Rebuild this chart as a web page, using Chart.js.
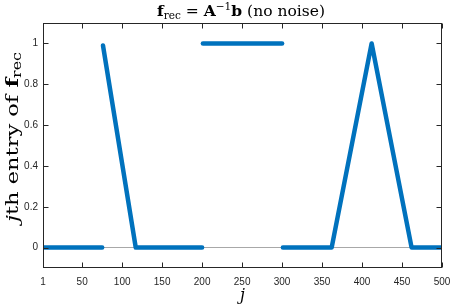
<!DOCTYPE html>
<html>
<head>
<meta charset="utf-8">
<script src="https://cdn.jsdelivr.net/npm/chart.js@4.4.1/dist/chart.umd.min.js"></script>
<style>
  html, body { margin:0; padding:0; background:#fff; }
  #wrap { width:450px; height:306px; }
</style>
</head>
<body>
<div id="wrap"><canvas id="chart" width="450" height="306"></canvas></div>
<script>
// breakpoints of f_rec (j index, value)
const seg1J = [1, 75],               seg1F = [0, 0];
const seg2J = [76, 117, 200],        seg2F = [0.99, 0, 0];
const seg3J = [201, 300],            seg3F = [1, 1];
const seg4J = [301, 362, 412, 462, 500], seg4F = [0, 0, 1, 0, 0];

const xTicks = [1, 50, 100, 150, 200, 250, 300, 350, 400, 450, 500];
const yTicks = [0, 0.2, 0.4, 0.6, 0.8, 1];

const blue = "#0072BD";
const axisCol = "#262626";
const serif = "'DejaVu Serif', 'Liberation Serif', serif";

const toPts = (js, fs) => js.map((j, i) => ({ x: j, y: fs[i] }));

function seg(js, fs) {
  return {
    data: toPts(js, fs),
    borderColor: blue,
    backgroundColor: blue,
    borderWidth: 4.5,
    borderCapStyle: "round",
    borderJoinStyle: "round",
    pointRadius: 0,
    tension: 0
  };
}

// draw mixed-font text runs centred on x; optional width stretches the run
function drawRuns(ctx, runs, x, y, width) {
  let total = 0;
  runs.forEach(r => { ctx.font = r.font; total += ctx.measureText(r.t).width; });
  const k = width ? width / total : 1;
  ctx.save();
  ctx.translate(x, y);
  ctx.scale(k, 1);
  let cx = -total / 2;
  runs.forEach(r => {
    ctx.font = r.font;
    ctx.fillText(r.t, cx, r.dy || 0);
    cx += ctx.measureText(r.t).width;
  });
  ctx.restore();
}

const decor = {
  id: "decor",
  afterDraw(chart) {
    const { ctx, chartArea: a, scales } = chart;
    ctx.save();
    ctx.strokeStyle = axisCol;
    ctx.lineWidth = 1;
    const L = Math.round(a.left) + 0.5, R = Math.round(a.right) - 0.5;
    const T = Math.round(a.top) + 0.5, B = Math.round(a.bottom) - 0.5;
    ctx.strokeRect(L, T, R - L, B - T);

    // inward ticks on all four sides
    ctx.beginPath();
    xTicks.forEach(v => {
      const px = Math.round(scales.x.getPixelForValue(v)) + 0.5;
      ctx.moveTo(px, B); ctx.lineTo(px, B - 5);
      ctx.moveTo(px, T); ctx.lineTo(px, T + 5);
    });
    yTicks.forEach(v => {
      const py = Math.round(scales.y.getPixelForValue(v)) + 0.5;
      ctx.moveTo(L, py); ctx.lineTo(L + 5, py);
      ctx.moveTo(R, py); ctx.lineTo(R - 5, py);
    });
    ctx.stroke();

    ctx.fillStyle = "#000";
    ctx.textBaseline = "alphabetic";
    const cx = (a.left + a.right) / 2;

    // title
    drawRuns(ctx, [
      { t: "f", font: "bold 15.5px " + serif },
      { t: "rec", font: "10.5px " + serif, dy: 3 },
      { t: " = ", font: "15.5px " + serif },
      { t: "A", font: "bold 15.5px " + serif },
      { t: "\u22121", font: "10.5px " + serif, dy: -6 },
      { t: "b", font: "bold 15.5px " + serif },
      { t: " (no noise)", font: "15.5px " + serif }
    ], 241, 16, 168);

    // x label
    drawRuns(ctx, [{ t: "j", font: "italic 16px " + serif }], cx, 300);

    // y label
    ctx.translate(18, 137);
    ctx.rotate(-Math.PI / 2);
    drawRuns(ctx, [
      { t: "j", font: "italic 17px " + serif },
      { t: "th entry of ", font: "17px " + serif },
      { t: "f", font: "bold 17px " + serif },
      { t: "rec", font: "12px " + serif, dy: 3 }
    ], 0, 0, 170);
    ctx.restore();
  }
};

new Chart(document.getElementById("chart"), {
  type: "line",
  data: {
    datasets: [
      seg(seg1J, seg1F),
      seg(seg2J, seg2F),
      seg(seg3J, seg3F),
      seg(seg4J, seg4F)
    ]
  },
  options: {
    responsive: false,
    animation: false,
    layout: { padding: { top: 23, right: 8, left: 0, bottom: 0 } },
    plugins: { legend: { display: false }, tooltip: { enabled: false }, title: { display: false } },
    scales: {
      x: {
        type: "linear",
        min: 1,
        max: 500,
        afterFit: s => { s.height = 38; s.paddingLeft = 0; s.paddingRight = 0; },
        afterBuildTicks: s => { s.ticks = xTicks.map(v => ({ value: v })); },
        border: { display: false },
        grid: { display: false, drawTicks: false },
        ticks: {
          autoSkip: false,
          maxRotation: 0,
          padding: 8,
          color: axisCol,
          font: { family: "'Liberation Sans', Arial, sans-serif", size: 10 },
          callback: v => String(v)
        }
      },
      y: {
        type: "linear",
        min: -0.1,
        max: 1.1,
        afterFit: s => { s.width = 43; s.paddingTop = 0; s.paddingBottom = 0; },
        afterBuildTicks: s => { s.ticks = yTicks.map(v => ({ value: v })); },
        border: { display: false },
        grid: {
          drawTicks: false,
          lineWidth: 1,
          color: c => (c.tick && c.tick.value === 0 ? "#a8a8a8" : "rgba(0,0,0,0)")
        },
        ticks: {
          padding: 5,
          color: axisCol,
          font: { family: "'Liberation Sans', Arial, sans-serif", size: 10 },
          callback: v => String(Math.round(v * 10) / 10)
        }
      }
    }
  },
  plugins: [decor]
});
</script>
</body>
</html>
